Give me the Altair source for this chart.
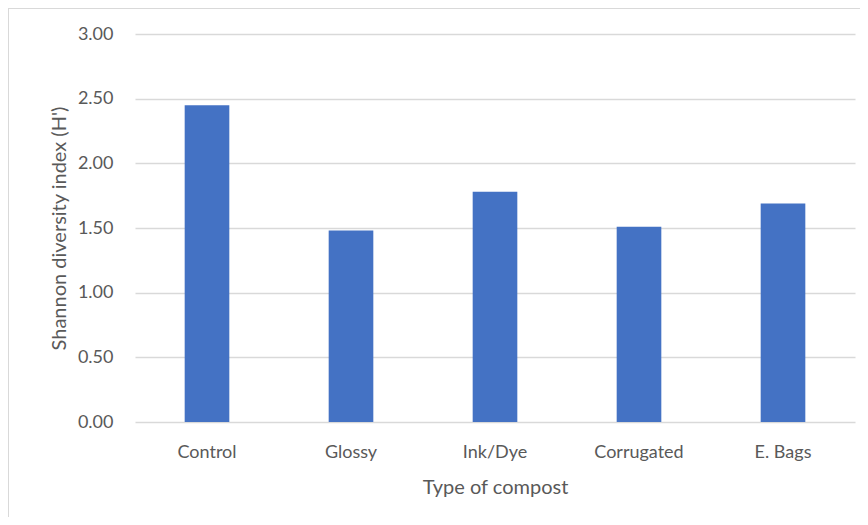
import altair as alt
import pandas as pd

categories = ["Control", "Glossy", "Ink/Dye", "Corrugated", "E. Bags"]
values = [2.45, 1.48, 1.78, 1.51, 1.69]
y_ticks = [0, 0.5, 1.0, 1.5, 2.0, 2.5, 3.0]

df = pd.DataFrame({"cat": categories, "val": values})

FONT = "Lato"
GRAY = "#595959"

bars = alt.Chart(df).mark_bar(color="#4472c4").encode(
    x=alt.X("cat:N", sort=categories, title="Type of compost",
            scale=alt.Scale(paddingInner=0.69, paddingOuter=0.345),
            axis=alt.Axis(labelAngle=0, ticks=False, domain=False,
                          labelPadding=21, titlePadding=16,
                          labelFontSize=18, titleFontSize=20,
                          labelColor=GRAY, titleColor=GRAY,
                          labelFont=FONT, titleFont=FONT,
                          titleFontWeight="normal")),
    y=alt.Y("val:Q", title="Shannon diversity index (H')",
            scale=alt.Scale(domain=[0, 3]),
            axis=alt.Axis(values=y_ticks, format=".2f", ticks=False, domain=False,
                          gridColor="#d9d9d9", gridWidth=1.5,
                          labelPadding=22, titlePadding=8,
                          labelFontSize=18, titleFontSize=20,
                          labelColor=GRAY, titleColor=GRAY,
                          labelFont=FONT, titleFont=FONT,
                          titleFontWeight="normal")),
)

top_border = alt.Chart(df).mark_rule(color="#d9d9d9", strokeWidth=2).encode(
    x=alt.value(-127), x2=alt.value(733), y=alt.value(-26)
)
left_border = alt.Chart(df).mark_rule(color="#d9d9d9", strokeWidth=2).encode(
    x=alt.value(-127), y=alt.value(-26), y2=alt.value(500)
)

chart = alt.layer(bars, top_border, left_border).properties(
    width=720, height=388,
    autosize=alt.AutoSizeParams(type="none"),
    padding={"left": 127, "top": 26, "right": 5, "bottom": 95},
).configure_view(stroke=None)

chart.save("out.html", embed_options={"renderer": "svg", "actions": False})
